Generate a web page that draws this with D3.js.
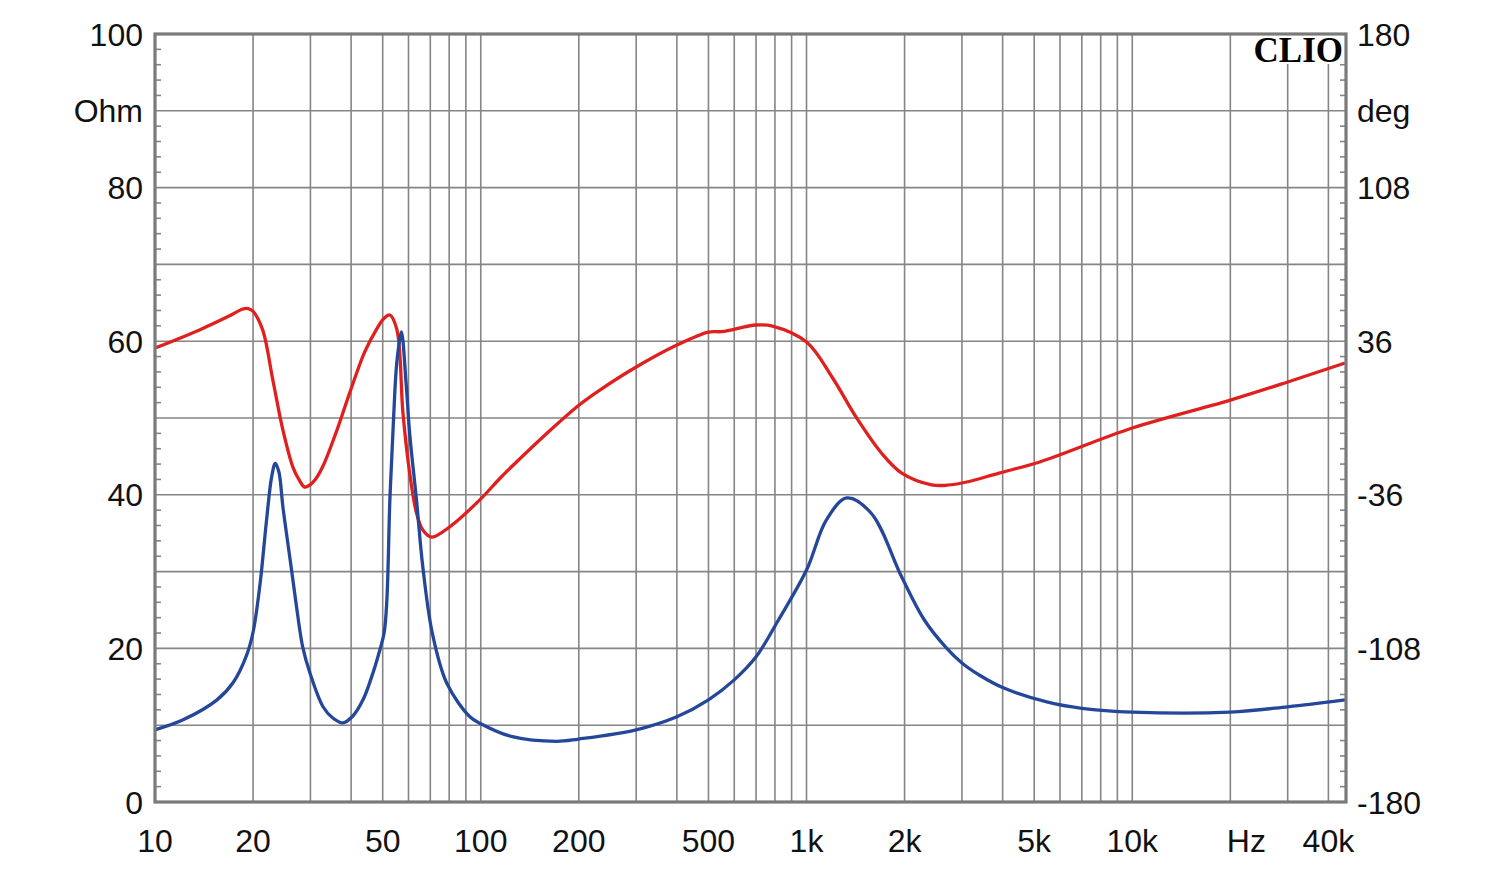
<!DOCTYPE html>
<html>
<head>
<meta charset="utf-8">
<script src="https://cdn.jsdelivr.net/npm/d3@7"></script>
<style>
  html, body { margin: 0; padding: 0; background: #fff; }
  svg { display: block; }
  text { font-family: "Liberation Sans", Arial, sans-serif; fill: #111; }
</style>
</head>
<body>
<svg id="chart" width="1500" height="870"></svg>
<script>
// ---- data ----
const impFreq = [10, 12.2, 15.5, 17.4, 19.1, 20, 21, 22, 22.8, 23.4, 24.0, 24.7, 26, 27.2, 28.4, 29.9, 32.8, 35, 37.7, 40.5, 43.5, 46, 49, 50.5, 51.5, 52.6, 54, 55.1, 56.3, 57.1, 59, 60.5, 63.5, 66.4, 71, 78.6, 92.6, 100, 125, 171, 200, 300, 400, 500, 600, 700, 820, 1000, 1150, 1330, 1580, 1960, 2300, 2670, 3000, 3400, 4000, 5500, 7000, 10000, 20000, 30000, 45000];
const impOhm  = [9.4, 10.7, 13.3, 15.6, 19.1, 22.1, 28.3, 36.7, 42.3, 44.1, 43, 38.4, 31.5, 25.4, 20.2, 16.8, 12.4, 11, 10.3, 11.2, 13.3, 16, 19.8, 22, 26.3, 39.3, 50, 56.7, 60, 61.2, 54.5, 48, 39.3, 30.6, 22, 15.5, 11.1, 10.2, 8.5, 7.9, 8.2, 9.4, 11.1, 13.3, 15.9, 18.9, 23.7, 30.2, 36.7, 39.6, 37.6, 29.3, 23.7, 20.2, 18.1, 16.5, 14.9, 13.0, 12.2, 11.7, 11.7, 12.4, 13.3];

const phFreq = [10, 13.7, 17, 18.6, 19.3, 20, 21.4, 23, 24.7, 26.5, 27.7, 28.8, 30, 31, 32.8, 36, 39.6, 44, 47.9, 50.5, 52.6, 55.3, 57.7, 60.5, 63.5, 66.4, 70.7, 80.3, 99.3, 114, 125, 160, 200, 232, 300, 400, 500, 550, 700, 786, 1000, 1200, 1420, 1700, 1960, 2420, 2700, 3100, 3900, 5200, 10000, 20000, 30000, 45000];
const phDeg  = [32.8, 41.3, 48, 51.1, 51.3, 50, 41.3, 17.8, -5.7, -23, -29.0, -32.4, -31.2, -29.0, -22.5, -6.6, 11.8, 30.9, 41.7, 46.8, 48.3, 41.3, 2.3, -25.8, -44.6, -52.5, -55.8, -51, -38.4, -28.6, -22.5, -7.0, 6, 13.1, 23.9, 34.2, 40.3, 40.5, 43.6, 43.1, 35.6, 19, 0.4, -16.5, -25.8, -31.3, -31.5, -30, -25.8, -20.6, -4.7, 8.4, 16.9, 25.8];

const xTickVals   = [10, 20, 50, 100, 200, 500, 1000, 2000, 5000, 10000, 40000];
const xTickLabels = ["10", "20", "50", "100", "200", "500", "1k", "2k", "5k", "10k", "40k"];
const xGridVals = [20,30,40,50,60,70,80,90,100,200,300,400,500,600,700,800,900,1000,2000,3000,4000,5000,6000,7000,8000,9000,10000,20000,30000,40000];
const yLeftTicks  = [0, 20, 40, 60, 80, 100];
const yRightTicks = [-180, -108, -36, 36, 108, 180];
const unitLeft = "Ohm", unitRight = "deg", unitX = "Hz", brand = "CLIO";

// ---- layout ----
const L = 155, R = 1346, T = 34, B = 802;
const svg = d3.select("#chart");
const x = d3.scaleLog().domain([10, 45300]).range([L, R]);
const yL = d3.scaleLinear().domain([0, 100]).range([B, T]);
const yR = d3.scaleLinear().domain([-180, 180]).range([B, T]);

const gridColor = "#858585";

// grid
const g = svg.append("g");
g.selectAll("line.vg").data(xGridVals).join("line")
  .attr("x1", d => x(d)).attr("x2", d => x(d))
  .attr("y1", T).attr("y2", B)
  .attr("stroke", gridColor).attr("stroke-width", 1.6);
g.selectAll("line.hg").data(d3.range(10, 100, 10)).join("line")
  .attr("x1", L).attr("x2", R)
  .attr("y1", d => yL(d)).attr("y2", d => yL(d))
  .attr("stroke", gridColor).attr("stroke-width", 1.6);

// minor ticks (every 2 ohm)
const minor = d3.range(2, 100, 2).filter(d => d % 10 !== 0);
g.selectAll("line.ml").data(minor).join("line")
  .attr("x1", L).attr("x2", L + 6)
  .attr("y1", d => yL(d)).attr("y2", d => yL(d))
  .attr("stroke", gridColor).attr("stroke-width", 1.6);
g.selectAll("line.mr").data(minor).join("line")
  .attr("x1", R - 6).attr("x2", R)
  .attr("y1", d => yL(d)).attr("y2", d => yL(d))
  .attr("stroke", gridColor).attr("stroke-width", 1.6);

// clip
svg.append("clipPath").attr("id", "clip").append("rect")
  .attr("x", L).attr("y", T).attr("width", R - L).attr("height", B - T);

// curves
const phLine = d3.line().x(d => x(d[0])).y(d => yR(d[1])).curve(d3.curveCatmullRom.alpha(0.5));
const impLine = d3.line().x(d => x(d[0])).y(d => yL(d[1])).curve(d3.curveCatmullRom.alpha(0.5));

svg.append("path").datum(d3.zip(phFreq, phDeg))
  .attr("d", phLine).attr("fill", "none")
  .attr("stroke", "#e0201e").attr("stroke-width", 3.3)
  .attr("stroke-linejoin", "round")
  .attr("clip-path", "url(#clip)");
svg.append("path").datum(d3.zip(impFreq, impOhm))
  .attr("d", impLine).attr("fill", "none")
  .attr("stroke", "#24479a").attr("stroke-width", 3.3)
  .attr("stroke-linejoin", "round")
  .attr("clip-path", "url(#clip)");

// CLIO brand box
svg.append("rect").attr("x", 1244).attr("y", T).attr("width", R - 1244).attr("height", 30).attr("fill", "#fff");
svg.append("text").attr("x", R - 3).attr("y", 62)
  .attr("text-anchor", "end")
  .style("font-family", "'Liberation Serif', 'DejaVu Serif', serif")
  .style("font-weight", "bold").style("font-size", "35px")
  .style("fill", "#000")
  .text(brand);

// frame
svg.append("rect").attr("x", L).attr("y", T).attr("width", R - L).attr("height", B - T)
  .attr("fill", "none").attr("stroke", "#7a7a7a").attr("stroke-width", 3.2);

// axis labels
const fs = "32px";
svg.selectAll("text.yl").data(yLeftTicks).join("text")
  .attr("x", 143).attr("y", d => yL(d)).attr("dy", "0.36em")
  .attr("text-anchor", "end").style("font-size", fs).text(d => d);
svg.append("text").attr("x", 143).attr("y", yL(90)).attr("dy", "0.36em")
  .attr("text-anchor", "end").style("font-size", fs).text(unitLeft);

svg.selectAll("text.yr").data(yRightTicks).join("text")
  .attr("x", 1357).attr("y", d => yR(d)).attr("dy", "0.36em")
  .attr("text-anchor", "start").style("font-size", fs).text(d => d);
svg.append("text").attr("x", 1357).attr("y", yL(90)).attr("dy", "0.36em")
  .attr("text-anchor", "start").style("font-size", fs).text(unitRight);

svg.selectAll("text.xl").data(xTickVals).join("text")
  .attr("x", d => x(d)).attr("y", 840).attr("dy", "0.36em")
  .attr("text-anchor", "middle").style("font-size", fs)
  .text((d, i) => xTickLabels[i]);
svg.append("text").attr("x", x(20000) + 16).attr("y", 840).attr("dy", "0.36em")
  .attr("text-anchor", "middle").style("font-size", fs).text(unitX);
</script>
</body>
</html>
